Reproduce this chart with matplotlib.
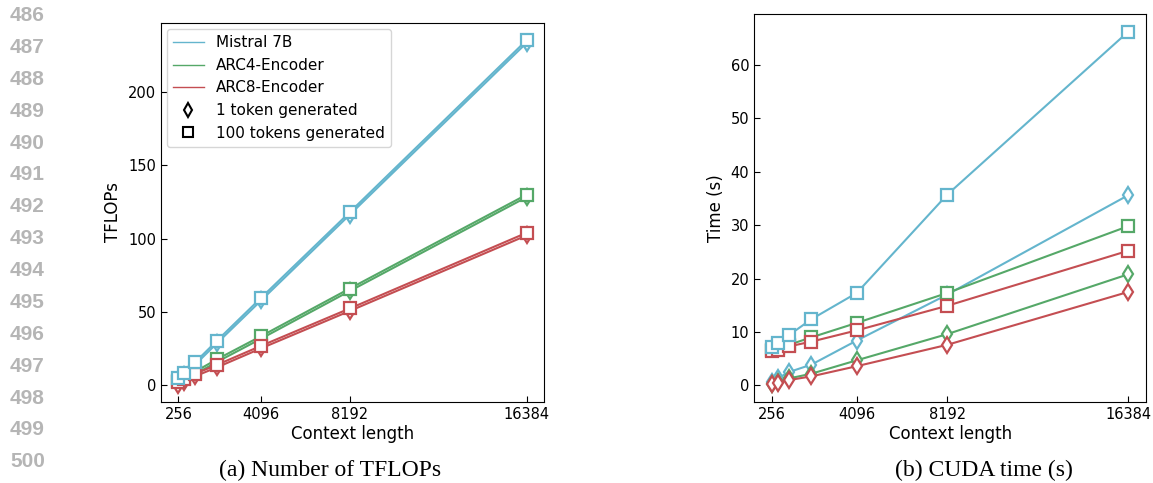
import matplotlib.pyplot as plt
from matplotlib.lines import Line2D

# context lengths (x) and tick labels
ctx = [256, 512, 1024, 2048, 4096, 8192, 16384]
xticks = [256, 4096, 8192, 16384]

models = ["Mistral 7B", "ARC4-Encoder", "ARC8-Encoder"]
colors = ["#64B5CD", "#55A868", "#C44E52"]

# (a) TFLOPs
flops_100 = {
    "Mistral 7B":   [5.0, 8.5, 15.6, 30.5, 59.8, 118.0, 235.3],
    "ARC4-Encoder": [3.0, 5.2, 9.3, 17.8, 33.6, 66.0, 130.0],
    "ARC8-Encoder": [2.2, 4.0, 7.9, 14.0, 27.0, 52.4, 104.0],
}
flops_1 = {
    "Mistral 7B":   [3.2, 6.8, 14.0, 28.8, 58.0, 116.3, 233.5],
    "ARC4-Encoder": [1.3, 3.5, 7.6, 16.0, 31.9, 64.3, 128.3],
    "ARC8-Encoder": [0.4, 2.3, 6.2, 12.3, 25.3, 50.7, 102.2],
}

# (b) CUDA time (s)
time_100 = {
    "Mistral 7B":   [7.1, 7.9, 9.4, 12.4, 17.3, 35.7, 66.2],
    "ARC4-Encoder": [6.6, 7.0, 7.6, 9.0, 11.7, 17.3, 29.8],
    "ARC8-Encoder": [6.4, 6.7, 7.3, 8.2, 10.3, 14.9, 25.2],
}
time_1 = {
    "Mistral 7B":   [0.7, 1.3, 2.5, 3.9, 8.4, 17.0, 35.6],
    "ARC4-Encoder": [0.3, 0.6, 1.3, 2.2, 4.7, 9.6, 20.8],
    "ARC8-Encoder": [0.2, 0.4, 1.0, 1.7, 3.6, 7.6, 17.5],
}

fig = plt.figure(figsize=(11.53, 4.83), dpi=100)
ax1 = fig.add_axes([0.1396, 0.1677, 0.3322, 0.7847])
ax2 = fig.add_axes([0.6540, 0.1677, 0.3400, 0.8033])

sq_order = ["ARC4-Encoder", "ARC8-Encoder", "Mistral 7B"]

def draw(ax, d100, d1):
    # 1 token lines first, then 100 token lines on top
    for m, c in zip(models, colors):
        ax.plot(ctx, d1[m], color=c, lw=1.5, marker="d", ms=8,
                mfc="white", mec=c, mew=1.6, zorder=2)
    for m in sq_order:
        c = colors[models.index(m)]
        ax.plot(ctx, d100[m], color=c, lw=1.5, marker="s", ms=8,
                mfc="white", mec=c, mew=1.6, zorder=3)
    ax.set_xticks(xticks)
    ax.set_xticklabels([str(t) for t in xticks])
    ax.tick_params(direction="in", labelsize=10.5, length=4)
    ax.set_xlabel("Context length", fontsize=12, labelpad=2)

draw(ax1, flops_100, flops_1)
ax1.set_ylabel("TFLOPs", fontsize=12)
ax1.set_yticks([0, 50, 100, 150, 200])

draw(ax2, time_100, time_1)
ax2.set_ylabel("Time (s)", fontsize=12)
ax2.set_yticks([0, 10, 20, 30, 40, 50, 60])

handles = [Line2D([], [], color=c, lw=1) for c in colors]
handles.append(Line2D([], [], color="black", ls="none", marker="d", ms=7, mfc="white", mew=1.5))
handles.append(Line2D([], [], color="black", ls="none", marker="s", ms=7, mfc="white", mew=1.5))
labels = models + ["1 token generated", "100 tokens generated"]
ax1.legend(handles, labels, loc="upper left", fontsize=11, borderaxespad=0.4)

# line numbers from the paper margin
for i, n in enumerate(range(486, 501)):
    fig.text(0.0087, 1 - (15.7 + i * 31.86) / 483, str(n), fontsize=15,
             fontweight="bold", color="#b5b5b5", family="Liberation Sans",
             va="center", ha="left")

fig.text(330 / 1153, 1 - 470 / 483, "(a) Number of TFLOPs", fontsize=17,
         family="Liberation Serif", ha="center", va="center")
fig.text(984 / 1153, 1 - 470 / 483, "(b) CUDA time (s)", fontsize=17,
         family="Liberation Serif", ha="center", va="center")

fig.savefig("out.png", dpi=100)
